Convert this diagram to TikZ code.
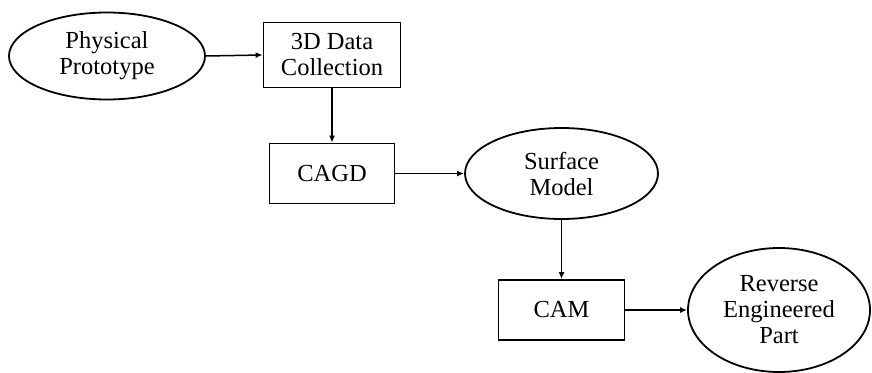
\documentclass[tikz,border=0pt]{standalone}
\usepackage{fontspec}
\setmainfont{Liberation Serif}
\usetikzlibrary{shapes.geometric,arrows.meta}
\begin{document}
\begin{tikzpicture}[x=1pt,y=1pt,
  every node/.style={font=\fontsize{24.5}{26}\selectfont, align=center, inner sep=0pt},
  oval/.style={ellipse, draw, line width=1.8pt},
  boxnode/.style={rectangle, draw, line width=1.8pt},
  flow/.style={-{Latex[length=7pt,width=6pt]}, line width=1.5pt}]
  \useasboundingbox (0,0) rectangle (872,-372);

  % process nodes
  \node[oval, minimum width=196, minimum height=87] (phys) at (107,-56) {Physical\\Prototype};
  \node[boxnode, minimum width=137, minimum height=65] (data) at (332,-55) {3D Data\\Collection};
  \node[boxnode, minimum width=125, minimum height=60] (cagd) at (332,-173.5) {CAGD};
  \node[oval, minimum width=193, minimum height=91] (surf) at (561.5,-173.5) {Surface\\Model};
  \node[boxnode, minimum width=126, minimum height=60] (cam) at (561.5,-310) {CAM};
  \node[oval, minimum width=182, minimum height=124] (rev) at (779,-310) {Reverse\\Engineered\\Part};

  % connectors
  \draw[flow] (phys.east) -- (data.west);
  \draw[flow] (data.south) -- (cagd.north);
  \draw[flow] (cagd.east) -- (surf.west);
  \draw[flow] (surf.south) -- (cam.north);
  \draw[flow] (cam.east) -- (rev.west);
\end{tikzpicture}
\end{document}
